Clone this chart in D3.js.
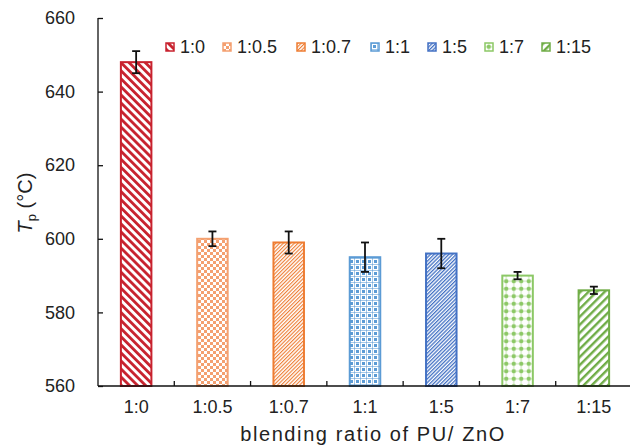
<!DOCTYPE html>
<html><head><meta charset="utf-8">
<script src="https://cdn.jsdelivr.net/npm/d3@7"></script>
<style>
html,body{margin:0;padding:0;background:#fff;}
svg{display:block;font-family:"Liberation Sans",Arial,sans-serif;}
</style></head>
<body><svg id="c" width="630" height="447"></svg>
<script>
const categories = ["1:0","1:0.5","1:0.7","1:1","1:5","1:7","1:15"];
const values = [648, 600, 599, 595, 596, 590, 586];
const errors = [3, 2, 3, 4, 4, 1, 1];
const colors = ["#c8222e","#f4a070","#ee7d33","#5b9bd5","#4472c4","#8cc866","#70ad47"];
const yTicks = [560, 580, 600, 620, 640, 660];

const svg = d3.select("#c");
const L = 98, R = 632, T = 18, B = 386;
const x = d3.scaleBand().domain(categories).range([L, R]).paddingInner(0.6).paddingOuter(0.3);
const y = d3.scaleLinear().domain([560, 660]).range([B, T]);

// patterns
const defs = svg.append("defs");
function stripe(id, color, spacing, width, angle) {
  const p = defs.append("pattern").attr("id", id).attr("patternUnits", "userSpaceOnUse")
    .attr("width", spacing).attr("height", 10).attr("patternTransform", `rotate(${angle})`);
  p.append("rect").attr("width", spacing).attr("height", 10).attr("fill", "#fff");
  p.append("rect").attr("width", width).attr("height", 10).attr("fill", color);
}
stripe("p0", colors[0], 5.7, 2.8, -45);
(function(){
  const p = defs.append("pattern").attr("id","p1").attr("patternUnits","userSpaceOnUse").attr("width",6).attr("height",6);
  p.append("rect").attr("width",6).attr("height",6).attr("fill","#fff");
  p.append("rect").attr("width",3).attr("height",3).attr("fill",colors[1]);
  p.append("rect").attr("x",3).attr("y",3).attr("width",3).attr("height",3).attr("fill",colors[1]);
})();
stripe("p2", colors[2], 2.6, 1.1, 45);
(function(){
  const p = defs.append("pattern").attr("id","p3").attr("patternUnits","userSpaceOnUse").attr("width",6).attr("height",6);
  p.append("rect").attr("width",6).attr("height",6).attr("fill","#fff");
  p.append("rect").attr("x",0).attr("y",0).attr("width",6).attr("height",1).attr("fill",colors[3]).attr("opacity",0.55);
  p.append("rect").attr("x",0).attr("y",0).attr("width",1).attr("height",6).attr("fill",colors[3]).attr("opacity",0.55);
  p.append("rect").attr("x",2).attr("y",2).attr("width",3).attr("height",3).attr("fill",colors[3]);
})();
stripe("p4", colors[4], 2.6, 1.3, 45);
(function(){
  const p = defs.append("pattern").attr("id","p5").attr("patternUnits","userSpaceOnUse").attr("width",7.5).attr("height",7.5);
  p.append("rect").attr("width",7.5).attr("height",7.5).attr("fill","#fff");
  p.append("rect").attr("x",0).attr("y",3.25).attr("width",7.5).attr("height",1).attr("fill",colors[5]).attr("opacity",0.5);
  p.append("rect").attr("x",3.25).attr("y",0).attr("width",1).attr("height",7.5).attr("fill",colors[5]).attr("opacity",0.5);
  p.append("circle").attr("cx",3.75).attr("cy",3.75).attr("r",2.2).attr("fill",colors[5]);
})();
stripe("p6", colors[6], 5.7, 2.4, 45);

// bars
svg.append("g").selectAll("rect").data(categories).join("rect")
  .attr("x", d => x(d)).attr("width", x.bandwidth())
  .attr("y", (d,i) => y(values[i])).attr("height", (d,i) => B - y(values[i]))
  .attr("fill", (d,i) => `url(#p${i})`)
  .attr("stroke", (d,i) => colors[i]).attr("stroke-width", 2);

// error bars
const eg = svg.append("g").attr("stroke", "#111").attr("stroke-width", 1.8);
categories.forEach((c,i) => {
  const cx = x(c) + x.bandwidth()/2;
  const y1 = y(values[i] + errors[i]), y2 = y(values[i] - errors[i]);
  eg.append("line").attr("x1",cx).attr("x2",cx).attr("y1",y1).attr("y2",y2);
  eg.append("line").attr("x1",cx-4).attr("x2",cx+4).attr("y1",y1).attr("y2",y1);
  eg.append("line").attr("x1",cx-4).attr("x2",cx+4).attr("y1",y2).attr("y2",y2);
});

// y axis
const yAxis = svg.append("g").attr("transform", `translate(${L},0)`)
  .call(d3.axisLeft(y).tickValues(yTicks).tickSize(-5).tickPadding(23).tickFormat(d3.format("d")));
yAxis.select(".domain").attr("d", `M0,${T}V${B}`).attr("stroke","#111").attr("stroke-width",1.3);
yAxis.selectAll(".tick line").attr("stroke","#111").attr("stroke-width",1.3);
yAxis.selectAll("text").attr("font-size", 18).attr("fill", "#222").attr("font-family","Liberation Sans, Arial, sans-serif");

// x axis
const xAxis = svg.append("g").attr("transform", `translate(0,${B})`)
  .call(d3.axisBottom(x).tickSize(0).tickPadding(14));
xAxis.select(".domain").attr("d", `M${L},0H${R}`).attr("stroke","#111").attr("stroke-width",1.3);
xAxis.selectAll("text").attr("font-size", 18).attr("fill", "#222").attr("font-family","Liberation Sans, Arial, sans-serif");
const step = x.step();
const bounds = categories.slice(1).map(c => x(c) - step * x.paddingInner() / 2);
xAxis.selectAll(".bt").data(bounds).join("line").attr("class","bt")
  .attr("x1", d => d).attr("x2", d => d).attr("y1", 0).attr("y2", -5)
  .attr("stroke","#111").attr("stroke-width",1.3);

// axis titles
svg.append("text").attr("x", 373).attr("y", 441).attr("text-anchor","middle")
  .attr("font-size", 20).attr("letter-spacing", 1.6).attr("fill","#222")
  .text("blending ratio of PU/ ZnO");
const yt = svg.append("text").attr("transform", "translate(32,203) rotate(-90)")
  .attr("text-anchor","middle").attr("font-size", 20).attr("fill","#222");
yt.append("tspan").attr("font-style","italic").text("T");
yt.append("tspan").attr("font-size", 13).attr("dy", 4).text("p");
yt.append("tspan").attr("dy", -4).text(" (°C)");

// legend
const legendX = [166, 223, 297, 371, 428, 485, 542];
const lg = svg.append("g");
categories.forEach((c,i) => {
  const g = lg.append("g").attr("transform", `translate(${legendX[i]},43)`);
  g.append("rect").attr("width", 8).attr("height", 8).attr("fill", `url(#p${i})`)
    .attr("stroke", colors[i]).attr("stroke-width", 1.5);
  g.append("text").attr("x", 14).attr("y", 10).attr("font-size", 18).attr("fill","#222").text(c);
});
</script></body></html>
